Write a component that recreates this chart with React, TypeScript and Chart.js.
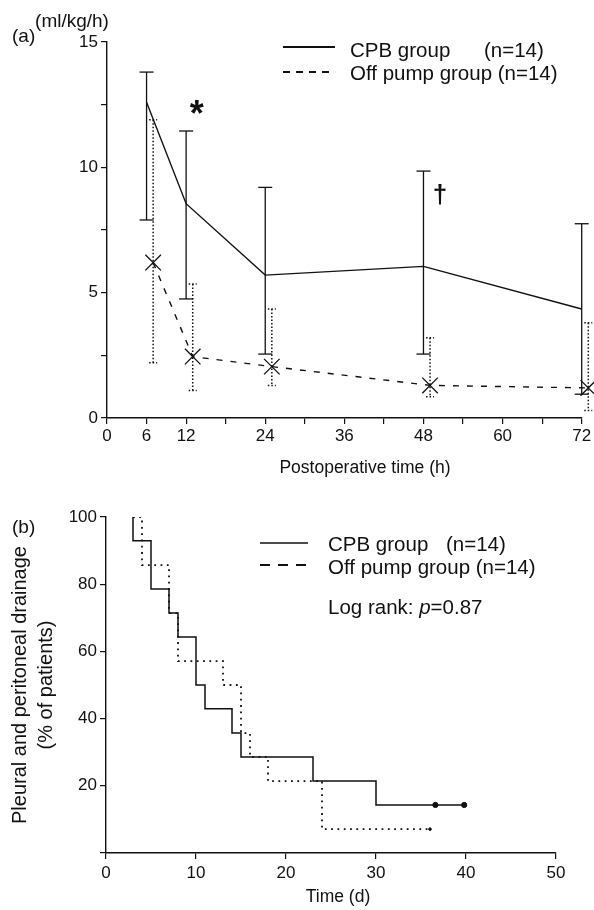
import React, { useEffect, useRef } from 'react';
import { Chart, registerables } from 'chart.js';
Chart.register(...registerables);

// ---------- Panel (a) data ----------
const cpbHours = [6, 12, 24, 48, 72];
const cpbMean = [12.6, 8.55, 5.7, 6.05, 4.35];
const cpbUpper = [13.8, 11.45, 9.2, 9.85, 7.75];
const cpbLower = [7.9, 4.75, 2.55, 2.55, 0.95];
const offHours = [7, 13, 25, 49, 73];
const offMean = [6.2, 2.45, 2.05, 1.3, 1.2];
const offUpper = [11.9, 5.35, 4.35, 3.2, 3.8];
const offLower = [2.2, 1.1, 1.3, 0.85, 0.3];
const hourTickLabels = [0, 6, 12, 24, 36, 48, 60, 72];
const rateTickLabels = [0, 5, 10, 15];

// ---------- Panel (b) data ----------
const kmCpbDays = [3, 3, 5, 7, 8, 10, 11, 14, 15, 23, 30, 39.8];
const kmCpbPct = [100, 92.9, 78.6, 71.4, 64.3, 50, 42.9, 35.7, 28.6, 21.4, 14.3, 14.3];
const kmOffDays = [3, 4, 7, 8, 13, 15, 16, 18, 24, 36];
const kmOffPct = [100, 85.7, 71.4, 57.1, 50, 35.7, 28.6, 21.4, 7.1, 7.1];
const cpbCensorDays = [36.6, 39.8];
const cpbCensorPct = [14.3, 14.3];
const offCensorDays = [36];
const offCensorPct = [7.1];
const pctTickLabels = [20, 40, 60, 80, 100];

const FONT = "'Liberation Sans', Arial, Helvetica, sans-serif";
const INK = '#111';
const LEG = 20.5;

function txt(ctx: CanvasRenderingContext2D, s: string, x: number, y: number, size: number, align: CanvasTextAlign = 'left', style = '') {
  ctx.font = `${style} ${size}px ${FONT}`.trim();
  ctx.fillStyle = INK;
  ctx.textAlign = align;
  ctx.textBaseline = 'middle';
  ctx.fillText(s, x, y);
}
function seg(ctx: CanvasRenderingContext2D, x1: number, y1: number, x2: number, y2: number) {
  ctx.beginPath();
  ctx.moveTo(x1, y1);
  ctx.lineTo(x2, y2);
  ctx.stroke();
}

const topDecor = {
  id: 'topDecor',
  afterDraw(chart: any) {
    const { ctx, scales: { x, y } } = chart;
    ctx.save();
    ctx.strokeStyle = INK;
    // error bars CPB
    ctx.lineWidth = 1.3;
    ctx.setLineDash([]);
    cpbHours.forEach((h, i) => {
      const px = x.getPixelForValue(h);
      const pu = y.getPixelForValue(cpbUpper[i]);
      const pl = y.getPixelForValue(cpbLower[i]);
      seg(ctx, px, pu, px, pl);
      seg(ctx, px - 7, pu, px + 7, pu);
      seg(ctx, px - 7, pl, px + 7, pl);
    });
    // error bars off pump (dotted)
    ctx.lineWidth = 1.5;
    ctx.setLineDash([1.5, 2]);
    offHours.forEach((h, i) => {
      const px = x.getPixelForValue(h);
      const pu = y.getPixelForValue(offUpper[i]);
      const pl = y.getPixelForValue(offLower[i]);
      seg(ctx, px, pu, px, pl);
      seg(ctx, px - 4, pu, px + 4, pu);
      seg(ctx, px - 4, pl, px + 4, pl);
    });
    ctx.setLineDash([]);
    // significance marks
    txt(ctx, '*', x.getPixelForValue(13.6), y.getPixelForValue(12.05), 36, 'center', 'bold');
    txt(ctx, '\u2020', x.getPixelForValue(50.5), y.getPixelForValue(8.85), 26, 'center', 'bold');
    // labels
    txt(ctx, '(ml/kg/h)', 72, 22, 19, 'center');
    txt(ctx, '(a)', 12, 37, 19, 'left');
    txt(ctx, 'Postoperative time (h)', 365, 468, 17.5, 'center');
    // legend
    ctx.lineWidth = 2;
    seg(ctx, 283, 47, 335, 47);
    ctx.lineWidth = 1.8;
    ctx.setLineDash([7, 6]);
    seg(ctx, 283, 72, 335, 72);
    ctx.setLineDash([]);
    txt(ctx, 'CPB group', 350, 51, LEG);
    txt(ctx, '(n=14)', 484, 51, LEG);
    txt(ctx, 'Off pump group (n=14)', 350, 74, LEG);
    ctx.restore();
  },
};

const bottomDecor = {
  id: 'bottomDecor',
  afterDraw(chart: any) {
    const { ctx } = chart;
    ctx.save();
    ctx.strokeStyle = INK;
    txt(ctx, '(b)', 12, 48, 19, 'left');
    txt(ctx, 'Time (d)', 338, 417, 17.5, 'center');
    ctx.lineWidth = 1.6;
    seg(ctx, 260, 63, 308, 63);
    ctx.lineWidth = 2;
    ctx.setLineDash([10, 8]);
    seg(ctx, 260, 85, 308, 85);
    ctx.setLineDash([]);
    txt(ctx, 'CPB group', 328, 65, LEG);
    txt(ctx, '(n=14)', 446, 65, LEG);
    txt(ctx, 'Off pump group (n=14)', 328, 88, LEG);
    // Log rank: p=0.87
    let cx = 328;
    const parts: [string, string][] = [['Log rank: ', ''], ['p', 'italic'], ['=0.87', '']];
    parts.forEach(([s, st]) => {
      txt(ctx, s, cx, 128, LEG, 'left', st);
      cx += ctx.measureText(s).width;
    });
    ctx.restore();
  },
};

const axisCommon = {
  border: { display: true, color: INK, width: 1.4 },
  grid: { drawOnChartArea: false, drawTicks: true, tickLength: 6, color: INK, lineWidth: 1.2 },
};

export default function App() {
  const topRef = useRef<HTMLCanvasElement>(null);
  const botRef = useRef<HTMLCanvasElement>(null);

  useEffect(() => {
    Chart.defaults.font.family = FONT;
    Chart.defaults.color = INK;

    const top = new Chart(topRef.current!, {
      type: 'line',
      data: {
        datasets: [
          {
            label: 'CPB group (n=14)',
            data: cpbHours.map((h, i) => ({ x: h, y: cpbMean[i] })),
            borderColor: INK,
            borderWidth: 1.4,
            pointRadius: 0,
            tension: 0,
            clip: false as any,
          },
          {
            label: 'Off pump group (n=14)',
            data: offHours.map((h, i) => ({ x: h, y: offMean[i] })),
            borderColor: INK,
            borderWidth: 1.4,
            borderDash: [6, 8],
            pointStyle: 'crossRot',
            pointRadius: 11,
            pointBorderWidth: 1.3,
            pointBorderColor: INK,
            tension: 0,
            clip: false as any,
          },
        ],
      },
      options: {
        animation: false,
        responsive: false,
        layout: { padding: { left: 0, right: 11, top: 42, bottom: 0 } },
        plugins: { legend: { display: false }, tooltip: { enabled: false } },
        scales: {
          x: {
            type: 'linear',
            min: 0,
            max: 72,
            ...axisCommon,
            afterFit: (s: any) => { s.height = 62; },
            ticks: {
              stepSize: 6,
              padding: 2,
              maxRotation: 0,
              autoSkip: false,
              font: { size: 17 },
              callback: (v: any) => (hourTickLabels.includes(Number(v)) ? String(v) : ''),
            },
          },
          y: {
            type: 'linear',
            min: 0,
            max: 15,
            ...axisCommon,
            afterFit: (s: any) => { s.width = 107; },
            ticks: {
              stepSize: 2.5,
              padding: 3,
              autoSkip: false,
              font: { size: 17 },
              callback: (v: any) => (rateTickLabels.includes(Number(v)) ? String(v) : ''),
            },
          },
        },
      },
      plugins: [topDecor],
    } as any);

    const bot = new Chart(botRef.current!, {
      type: 'line',
      data: {
        datasets: [
          {
            label: 'CPB group (n=14)',
            data: kmCpbDays.map((d, i) => ({ x: d, y: kmCpbPct[i] })),
            borderColor: INK,
            borderWidth: 1.5,
            pointRadius: 0,
            stepped: 'before',
          },
          {
            label: 'Off pump group (n=14)',
            data: kmOffDays.map((d, i) => ({ x: d, y: kmOffPct[i] })),
            borderColor: INK,
            borderWidth: 1.8,
            borderDash: [1.8, 4.5],
            pointRadius: 0,
            stepped: 'before',
          },
          {
            label: 'CPB censored',
            data: cpbCensorDays.map((d, i) => ({ x: d, y: cpbCensorPct[i] })),
            showLine: false,
            pointRadius: 2.6,
            pointBackgroundColor: INK,
            pointBorderColor: INK,
          },
          {
            label: 'Off pump censored',
            data: offCensorDays.map((d, i) => ({ x: d, y: offCensorPct[i] })),
            showLine: false,
            pointRadius: 1.3,
            pointBackgroundColor: INK,
            pointBorderColor: INK,
          },
        ],
      },
      options: {
        animation: false,
        responsive: false,
        layout: { padding: { left: 0, right: 38, top: 37, bottom: 0 } },
        plugins: { legend: { display: false }, tooltip: { enabled: false } },
        scales: {
          x: {
            type: 'linear',
            min: 0,
            max: 50,
            ...axisCommon,
            afterFit: (s: any) => { s.height = 57; },
            ticks: { stepSize: 10, padding: 4, maxRotation: 0, font: { size: 17 } },
          },
          y: {
            type: 'linear',
            min: 0,
            max: 100,
            ...axisCommon,
            afterFit: (s: any) => { s.width = 106; },
            title: {
              display: true,
              text: ['Pleural and peritoneal drainage', '(% of patients)'],
              font: { size: 20, lineHeight: 1.3 },
              padding: { top: 7, bottom: 0 },
              color: INK,
            },
            ticks: {
              stepSize: 20,
              padding: 3,
              font: { size: 17 },
              callback: (v: any) => (pctTickLabels.includes(Number(v)) ? String(v) : ''),
            },
          },
        },
      },
      plugins: [bottomDecor],
    } as any);

    return () => {
      top.destroy();
      bot.destroy();
    };
  }, []);

  return (
    <div style={{ position: 'absolute', left: 0, top: 0, width: 594, height: 910, background: '#fff' }}>
      <canvas ref={topRef} width={594} height={480} style={{ position: 'absolute', left: 0, top: 0, width: 594, height: 480 }} />
      <canvas ref={botRef} width={594} height={430} style={{ position: 'absolute', left: 0, top: 480, width: 594, height: 430 }} />
    </div>
  );
}
